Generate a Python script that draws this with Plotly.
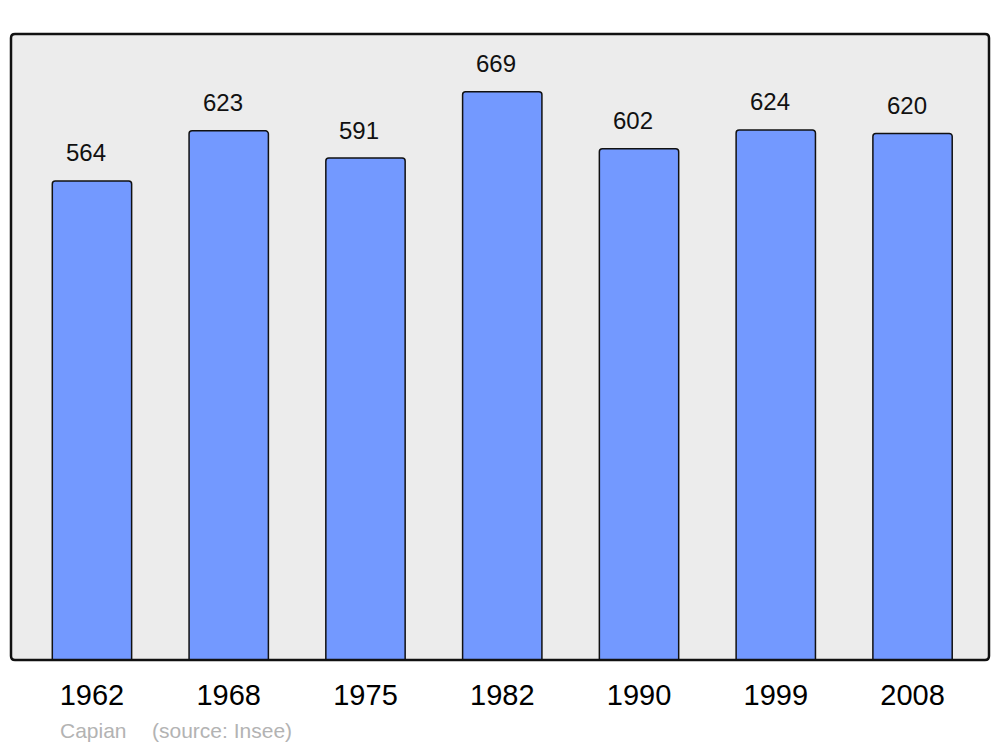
"""Population bar chart — Capian (source: Insee)."""

import plotly.graph_objects as go

years = ["1962", "1968", "1975", "1982", "1990", "1999", "2008"]
population = [564, 623, 591, 669, 602, 624, 620]

BAR_COLOR = "#7399ff"
PLOT_BG = "#ececec"
FONT = "Liberation Sans, Arial, sans-serif"

fig = go.Figure(go.Bar(
    x=years, y=population,
    width=0.58,
    marker=dict(color=BAR_COLOR, line=dict(color="#111111", width=1.5), cornerradius=3),
    hoverinfo="skip",
))

# value labels above the bars (category index used for x)
for i, val in enumerate(population):
    fig.add_annotation(
        x=i, y=val, text=str(val), showarrow=False,
        yanchor="middle", yshift=28, xshift=-6,
        font=dict(family=FONT, size=24, color="#111111"),
    )

# rounded frame around the plot area (plot area is 978 x 626 px)
rx, ry = 4 / 978, 4 / 626
frame = (
    f"M {rx},0 L {1 - rx},0 Q 1,0 1,{ry} L 1,{1 - ry} Q 1,1 {1 - rx},1 "
    f"L {rx},1 Q 0,1 0,{1 - ry} L 0,{ry} Q 0,0 {rx},0 Z"
)
fig.add_shape(
    type="path", xref="paper", yref="paper", path=frame,
    line=dict(color="#111111", width=2.5), layer="above",
)

fig.add_annotation(
    xref="paper", yref="paper", x=0.048, y=-0.113, xanchor="left", yanchor="middle",
    text="Capian", showarrow=False,
    font=dict(family=FONT, size=21, color="#b3b3b3"),
)
fig.add_annotation(
    xref="paper", yref="paper", x=0.142, y=-0.113, xanchor="left", yanchor="middle",
    text="(source: Insee)", showarrow=False,
    font=dict(family=FONT, size=21, color="#b3b3b3"),
)

fig.update_layout(
    width=1000, height=747,
    margin=dict(l=11, r=11, t=34, b=87),
    paper_bgcolor="white", plot_bgcolor=PLOT_BG,
    showlegend=False,
    font=dict(family=FONT, color="#000000"),
    xaxis=dict(
        type="category", range=[-0.592, 6.559],
        showgrid=False, zeroline=False, showline=False,
        ticks="outside", ticklen=9, tickcolor="rgba(0,0,0,0)",
        tickfont=dict(size=29, color="#000000"),
    ),
    yaxis=dict(
        range=[0, 737], showgrid=False, zeroline=False,
        showline=False, showticklabels=False, ticks="",
    ),
)

fig.write_html(
    "out.html",
    config={"displayModeBar": False},
    post_script="document.body.style.margin='0';",
)
